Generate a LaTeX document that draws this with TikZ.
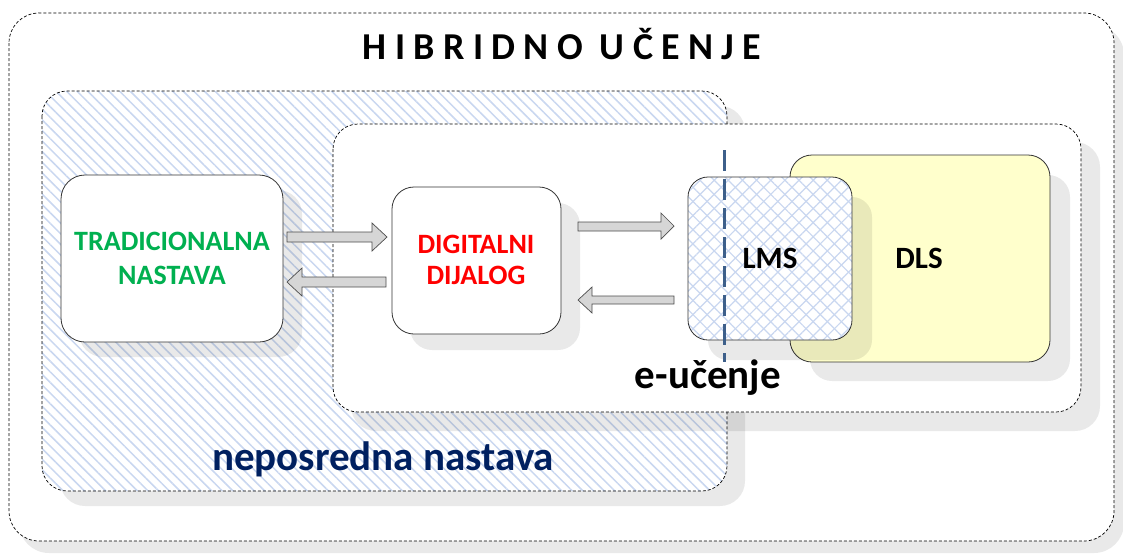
\documentclass[tikz,border=0pt]{standalone}
\usepackage{fontspec}
\setmainfont{Carlito}
\usetikzlibrary{patterns.meta}
\definecolor{hatchc}{HTML}{C9D7F0}
\definecolor{dlsc}{HTML}{FFFFCC}
\definecolor{tradc}{HTML}{00B050}
\definecolor{navyc}{HTML}{002060}
\definecolor{vlinec}{HTML}{3D5F8A}
\definecolor{arrowfill}{HTML}{D6D6D6}
\definecolor{arrowdraw}{HTML}{4D4D4D}
\tikzset{
  shadowbox/.style={fill=black, fill opacity=0.085, draw=none},
  groupbox/.style={draw=black, dashed, dash pattern=on 3pt off 2pt, line width=0.7pt},
  solidbox/.style={draw=black!80, line width=0.8pt, fill=white},
  blockarrow/.style={fill=arrowfill, draw=arrowdraw, line width=0.7pt},
  lbl/.style={font=\bfseries, align=center, inner sep=0pt}
}
\begin{document}
\begin{tikzpicture}[x=1pt,y=-1pt]
\useasboundingbox (0,0) rectangle (1123,555);
\fill[white] (0,0) rectangle (1123,555);

% outer box
\fill[shadowbox, rounded corners=30pt] (19,25) rectangle (1124,553);
\draw[groupbox, fill=white, rounded corners=30pt] (9,13) rectangle (1114,541);
\node[lbl, anchor=base, font=\fontsize{38}{44}\selectfont\bfseries\addfontfeature{LetterSpace=22}] (title) at (562,59) {HIBRIDNO UČENJE};

% neposredna nastava
\fill[shadowbox, rounded corners=25pt] (60,106) rectangle (745,506);
\fill[white, rounded corners=25pt] (42,91) rectangle (727,491);
\path[pattern={Lines[angle=-45, distance=7.5pt, line width=1.5pt]}, pattern color=hatchc, rounded corners=25pt] (42,91) rectangle (727,491);
\draw[groupbox, rounded corners=25pt] (42,91) rectangle (727,491);
\node[lbl, anchor=base, text=navyc, font=\fontsize{41}{48}\selectfont\bfseries] (nep) at (383,470) {neposredna nastava};

% e-ucenje
\fill[shadowbox, rounded corners=25pt] (351,142) rectangle (1100,431);
\draw[groupbox, fill=white, rounded corners=25pt] (333,124) rectangle (1081,412);
\node[lbl, anchor=base, font=\fontsize{41}{48}\selectfont\bfseries] (eu) at (708,388) {e-učenje};

% tradicionalna
\fill[shadowbox, rounded corners=24pt] (79,190) rectangle (302,357);
\draw[solidbox, rounded corners=24pt] (61,175) rectangle (283,342);
\node[lbl, text=tradc, font=\fontsize{28}{34}\selectfont\bfseries] (trad) at (172,258) {TRADICIONALNA\\NASTAVA};

% digitalni dijalog
\fill[shadowbox, rounded corners=22pt] (410,203) rectangle (580,350);
\draw[solidbox, rounded corners=22pt] (392,187) rectangle (561,334);
\node[lbl, text=red, font=\fontsize{28}{31}\selectfont\bfseries] (dig) at (476,260) {DIGITALNI\\DIJALOG};

% DLS
\fill[shadowbox, rounded corners=22pt] (810,175) rectangle (1070,381);
\draw[solidbox, fill=dlsc, rounded corners=22pt] (790,155) rectangle (1050,362);
\node[lbl, anchor=base, font=\fontsize{31}{36}\selectfont\bfseries] (dls) at (919,268) {DLS};

% LMS
\fill[shadowbox, rounded corners=20pt] (708,197) rectangle (872,360);
\fill[white, rounded corners=20pt] (688,177) rectangle (852,340);
\path[pattern={Lines[angle=45, distance=10pt, line width=1.2pt]}, pattern color=hatchc, rounded corners=20pt] (688,177) rectangle (852,340);
\path[pattern={Lines[angle=-45, distance=10pt, line width=1.2pt]}, pattern color=hatchc, rounded corners=20pt] (688,177) rectangle (852,340);
\draw[draw=black!80, line width=0.8pt, rounded corners=20pt] (688,177) rectangle (852,340);
\node[lbl, anchor=base, font=\fontsize{31}{36}\selectfont\bfseries] (lms) at (770,268) {LMS};

% vertical dashed line
\coordinate (vtop) at (724,150);
\coordinate (vbot) at (724,362);
\draw[vlinec, line width=3pt, dash pattern=on 21pt off 8pt] (vtop) -- (vbot);

% block arrows
\draw[blockarrow] (287,232) -- (372,232) -- (372,223) -- (387,237) -- (372,251) -- (372,242) -- (287,242) -- cycle;
\draw[blockarrow] (386,277) -- (302,277) -- (302,268) -- (287,282) -- (302,296) -- (302,287) -- (386,287) -- cycle;
\draw[blockarrow] (578,222) -- (661,222) -- (661,213) -- (674,226) -- (661,239) -- (661,231) -- (578,231) -- cycle;
\draw[blockarrow] (674,296) -- (592,296) -- (592,287) -- (578,300) -- (592,313) -- (592,304) -- (674,304) -- cycle;
\end{tikzpicture}
\end{document}
